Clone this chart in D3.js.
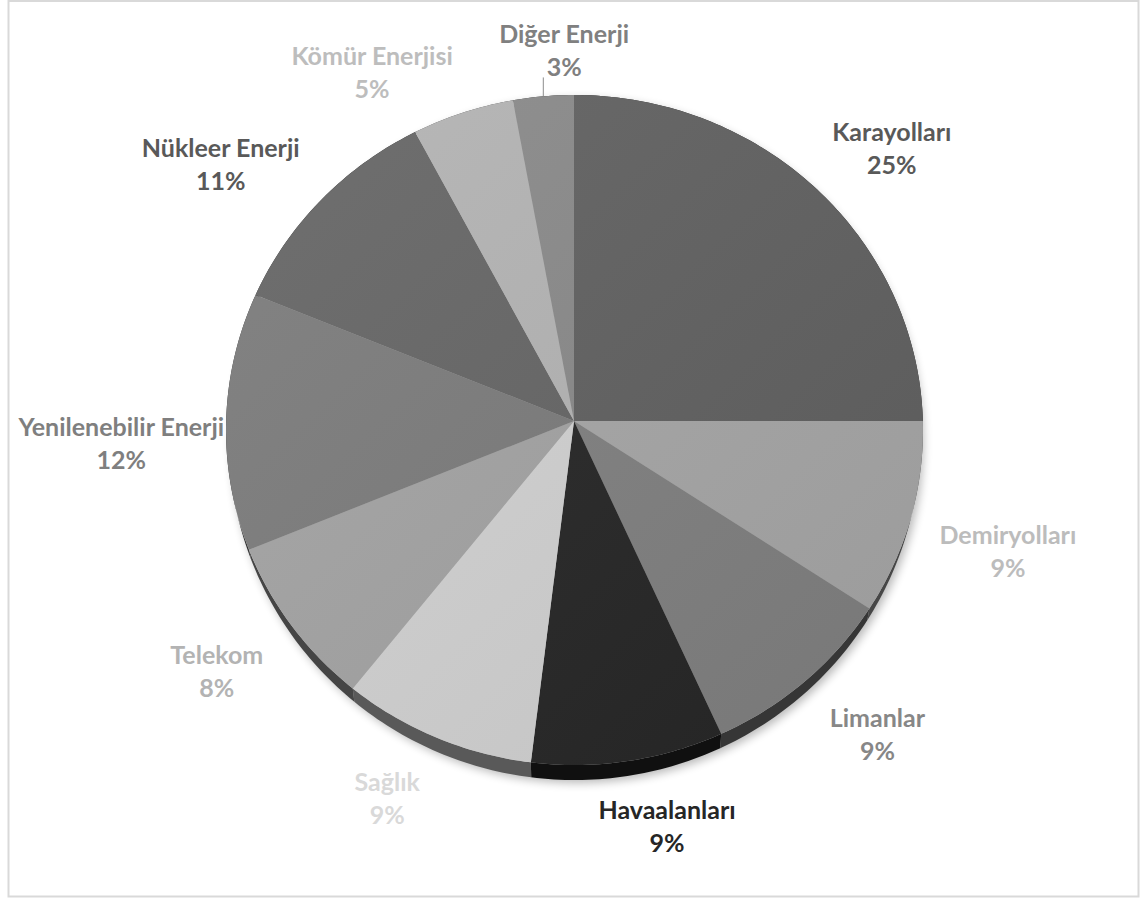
<!DOCTYPE html>
<html>
<head>
<meta charset="utf-8">
<script src="https://cdn.jsdelivr.net/npm/d3@7"></script>
<style>
  body { margin: 0; background: #fff; }
  text { font-family: Lato, "Noto Sans", sans-serif; font-weight: 700; }
</style>
</head>
<body>
<svg width="1148" height="898"></svg>
<script>
// data, slices go clockwise from 12 o'clock
var categories = ["Karayolları", "Demiryolları", "Limanlar", "Havaalanları", "Sağlık",
                  "Telekom", "Yenilenebilir Enerji", "Nükleer Enerji", "Kömür Enerjisi", "Diğer Enerji"];
var shares = [25, 9, 9, 9, 9, 8, 12, 11, 5, 3];
var percentLabels = ["25%", "9%", "9%", "9%", "9%", "8%", "12%", "11%", "5%", "3%"];

var sliceColors = ["#606060", "#a6a6a6", "#808080", "#262626", "#d1d1d1",
                   "#a3a3a3", "#7b7b7b", "#656565", "#b3b3b3", "#898989"];
var labelColors = ["#595959", "#bcbcbc", "#878787", "#262626", "#d9d9d9",
                   "#b3b3b3", "#7f7f7f", "#595959", "#bdbdbd", "#808080"];

var svg = d3.select("svg");

// chart frame
svg.append("rect")
    .attr("x", 8.5).attr("y", 1)
    .attr("width", 1130).attr("height", 895.5)
    .attr("fill", "#fff")
    .attr("stroke", "#d9d9d9")
    .attr("stroke-width", 2);

// tilted pie: slices meet at the apex, top face and base are ellipses
var apex = {x: 574, y: 421};
var face = {cx: 574.5, cy: 430, rx: 348.5, ry: 335};
var base = {cx: 574.5, cy: 438, rx: 346, ry: 342};

// distance from the apex to an ellipse along angle t (clockwise from up)
function rayRadius(e, t) {
    var dx = Math.sin(t), dy = -Math.cos(t);
    var ux = apex.x - e.cx, uy = apex.y - e.cy;
    var a = dx * dx / (e.rx * e.rx) + dy * dy / (e.ry * e.ry);
    var b = 2 * (ux * dx / (e.rx * e.rx) + uy * dy / (e.ry * e.ry));
    var c = ux * ux / (e.rx * e.rx) + uy * uy / (e.ry * e.ry) - 1;
    return (-b + Math.sqrt(b * b - 4 * a * c)) / (2 * a);
}

var pie = d3.pie().sort(null).value(function(d) { return d; });
var arcs = pie(shares);

function sampleAngles(d) {
    var n = Math.max(8, Math.ceil((d.endAngle - d.startAngle) * 60));
    return d3.range(n + 1).map(function(i) {
        return d.startAngle + (d.endAngle - d.startAngle) * i / n;
    });
}

var radial = d3.lineRadial()
    .angle(function(p) { return p[0]; })
    .radius(function(p) { return p[1]; });

var line = d3.line();

// soft shadow filter
var defs = svg.append("defs");
defs.append("filter").attr("id", "soft")
    .attr("x", "-10%").attr("y", "-10%").attr("width", "120%").attr("height", "120%")
  .append("feGaussianBlur").attr("stdDeviation", 5);

var gradient = defs.append("linearGradient").attr("id", "sheen")
    .attr("x1", 0).attr("y1", 0).attr("x2", 1).attr("y2", 1);
gradient.append("stop").attr("offset", 0).attr("stop-color", "#fff").attr("stop-opacity", 0.07);
gradient.append("stop").attr("offset", 1).attr("stop-color", "#000").attr("stop-opacity", 0.07);

svg.append("ellipse")
    .attr("cx", base.cx + 3).attr("cy", base.cy + 3)
    .attr("rx", base.rx).attr("ry", base.ry)
    .attr("fill", "#000")
    .attr("opacity", 0.28)
    .attr("filter", "url(#soft)");

// sides (drawn first, the faces cover the back part)
svg.append("g").selectAll("path")
    .data(arcs)
    .enter()
    .append("path")
    .attr("fill", function(d, i) { return d3.color(sliceColors[i]).darker(2.4); })
    .attr("d", function(d) {
        var topPts = sampleAngles(d).map(function(t) {
            var r = rayRadius(face, t);
            return [apex.x + r * Math.sin(t), apex.y - r * Math.cos(t)];
        });
        var basePts = topPts.map(function(p) {
            var c = (p[0] - face.cx) / face.rx, s = (p[1] - face.cy) / face.ry;
            return [base.cx + base.rx * c, base.cy + base.ry * s];
        }).reverse();
        return line(topPts.concat(basePts)) + "Z";
    });

// top faces
var faces = svg.append("g")
    .attr("transform", "translate(" + apex.x + "," + apex.y + ")");

faces.selectAll("path.slice")
    .data(arcs)
    .enter()
    .append("path")
    .attr("class", "slice")
    .attr("fill", function(d, i) { return sliceColors[i]; })
    .attr("d", function(d) {
        var pts = [[d.startAngle, 0]].concat(sampleAngles(d).map(function(t) {
            return [t, rayRadius(face, t)];
        }));
        return radial(pts) + "Z";
    });

faces.append("ellipse")
    .attr("cx", face.cx - apex.x).attr("cy", face.cy - apex.y)
    .attr("rx", face.rx).attr("ry", face.ry)
    .attr("fill", "url(#sheen)");

// data labels, outside end
var padX = 30, padY = 20, lift = 4, boxH = 52, fontSize = 25;
// labels that were dragged by hand in the original (pixel nudges)
var labelNudge = {"Yenilenebilir Enerji": [28, 17], "Diğer Enerji": [42, -5]};
var labels = svg.append("g");

arcs.forEach(function(d, i) {
    var mid = (d.startAngle + d.endAngle) / 2;
    var dx = Math.sin(mid), dy = -Math.cos(mid);
    var rEdge = rayRadius(face, mid);
    var r = Math.max(rEdge, rayRadius(base, mid));

    var g = labels.append("g");
    var name = g.append("text")
        .attr("text-anchor", "middle")
        .attr("dominant-baseline", "central")
        .attr("font-size", fontSize)
        .attr("fill", labelColors[i])
        .text(categories[i]);
    var pct = g.append("text")
        .attr("text-anchor", "middle")
        .attr("dominant-baseline", "central")
        .attr("font-size", fontSize)
        .attr("fill", labelColors[i])
        .text(percentLabels[i]);

    var w = Math.max(name.node().getComputedTextLength(), pct.node().getComputedTextLength());
    var sx = Math.max(-1, Math.min(1, 3 * dx)), sy = Math.max(-1, Math.min(1, 3 * dy));
    var nudge = labelNudge[categories[i]] || [0, 0];
    var cx = apex.x + (r + padX) * dx + w / 2 * sx + nudge[0];
    var cy = apex.y + (r + padY) * dy + boxH / 2 * sy + lift + nudge[1];

    name.attr("x", cx).attr("y", cy - 16.5);
    pct.attr("x", cx).attr("y", cy + 16.5);

    // leader line when the label was moved away from its slice
    if (nudge[0] || nudge[1]) {
        var ex = apex.x + rEdge * dx, ey = apex.y + rEdge * dy;
        var left = cx - w / 2, bottom = cy + 28;
        if (ey > bottom + 8) {
            g.append("line")
                .attr("x1", ex).attr("y1", ey)
                .attr("x2", Math.max(ex, left + 42)).attr("y2", bottom)
                .attr("stroke", "#8c8c8c")
                .attr("stroke-width", 1);
        }
    }
});
</script>
</body>
</html>
